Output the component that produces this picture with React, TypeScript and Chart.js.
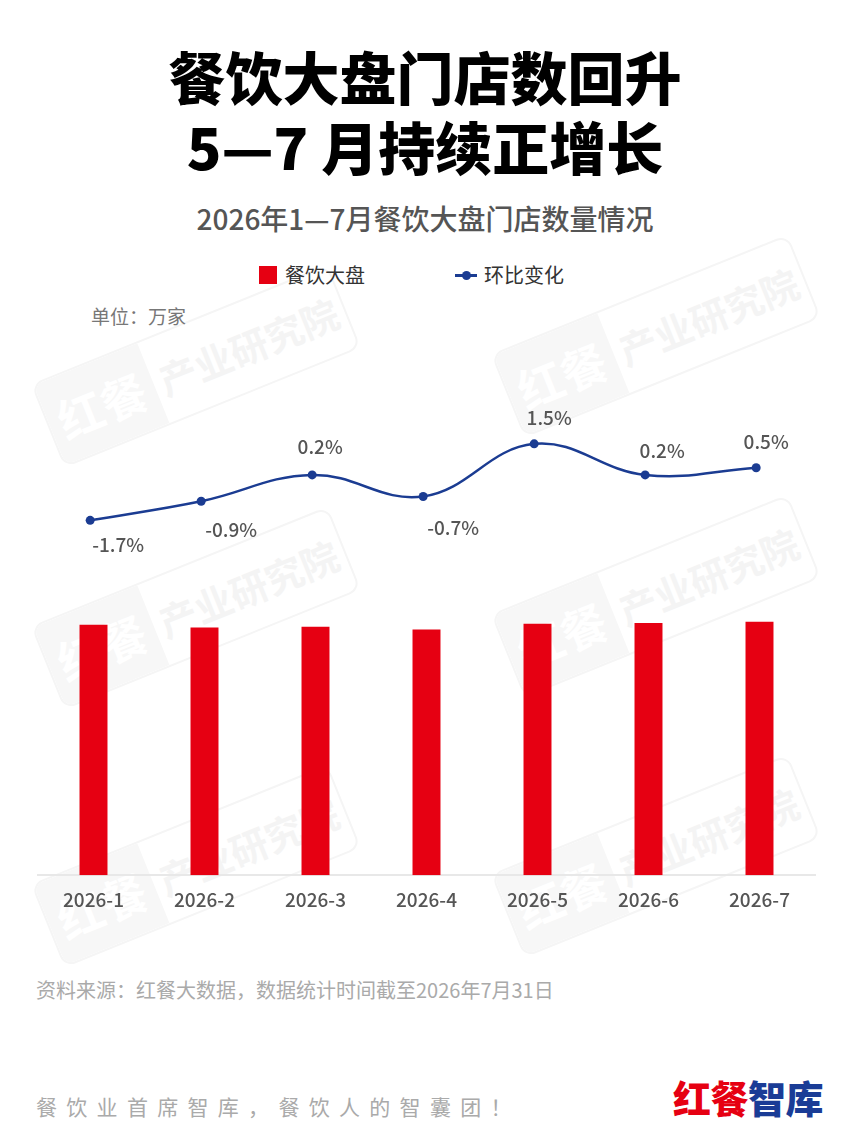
import React, { useEffect, useRef } from "react";
import { Chart, registerables } from "chart.js";

Chart.register(...registerables);

// ---- data ----
const categories = ["2026-1", "2026-2", "2026-3", "2026-4", "2026-5", "2026-6", "2026-7"];
const storeCounts = [800, 791, 794, 785, 803, 806, 810]; // 万家
const momChange = [-1.7, -0.9, 0.2, -0.7, 1.5, 0.2, 0.5]; // %
const momLabels = ["-1.7%", "-0.9%", "0.2%", "-0.7%", "1.5%", "0.2%", "0.5%"];
const seriesNames = ["餐饮大盘", "环比变化"];

// ---- styles ----
const FONT = '"Noto Sans CJK SC", "Noto Sans", sans-serif';
const RED = "#E60012";
const BLUE = "#1B3C92";
const LABEL_OFFSETS: [number, number][] = [
  [28, 24],
  [30, 29],
  [8, -28],
  [30, 31],
  [15, -26],
  [17, -24],
  [10, -26],
];

const lineLabelPlugin = {
  id: "lineLabels",
  afterDatasetsDraw(chart: any) {
    const meta = chart.getDatasetMeta(0);
    const ctx = chart.ctx;
    ctx.save();
    ctx.font = `500 19px ${FONT}`;
    ctx.fillStyle = "#555555";
    ctx.textAlign = "center";
    ctx.textBaseline = "middle";
    meta.data.forEach((pt: any, i: number) => {
      const [dx, dy] = LABEL_OFFSETS[i];
      ctx.fillText(momLabels[i], pt.x + dx, pt.y + dy);
    });
    ctx.restore();
  },
};

function Watermark({ cx, cy }: { cx: number; cy: number }) {
  return (
    <div
      style={{
        position: "absolute",
        left: cx - 160,
        top: cy - 45,
        width: 320,
        height: 90,
        transform: "rotate(-22deg)",
        border: "2px solid #f5f5f5",
        borderRadius: 12,
        display: "flex",
        alignItems: "center",
        overflow: "hidden",
        boxSizing: "border-box",
      }}
    >
      <div
        style={{
          width: 112,
          height: "100%",
          background: "#f7f7f7",
          color: "#ffffff",
          fontWeight: 700,
          fontSize: 46,
          display: "flex",
          alignItems: "center",
          justifyContent: "center",
          fontFamily: FONT,
        }}
      >
        红餐
      </div>
      <div
        style={{
          flex: 1,
          textAlign: "center",
          color: "#f4f4f4",
          fontWeight: 700,
          fontSize: 38,
          fontFamily: FONT,
        }}
      >
        产业研究院
      </div>
    </div>
  );
}

function BarLineChart() {
  const ref = useRef<HTMLCanvasElement | null>(null);
  useEffect(() => {
    if (!ref.current) return;
    const chart = new Chart(ref.current, {
      data: {
        labels: categories,
        datasets: [
          {
            type: "line",
            label: seriesNames[1],
            data: momChange.map((v, i) => ({ x: i, y: v })),
            xAxisID: "x2",
            yAxisID: "y2",
            borderColor: BLUE,
            borderWidth: 2.5,
            pointRadius: 4.5,
            pointBackgroundColor: BLUE,
            pointBorderWidth: 0,
            tension: 0.4,
            order: 0,
          } as any,
          {
            type: "bar",
            label: seriesNames[0],
            data: storeCounts,
            xAxisID: "x",
            yAxisID: "y",
            backgroundColor: RED,
            grouped: false,
            barPercentage: 0.252,
            categoryPercentage: 1,
            order: 1,
          } as any,
        ],
      },
      options: {
        animation: false,
        responsive: true,
        maintainAspectRatio: false,
        layout: { padding: { left: 38, right: 35, top: 0, bottom: 0 } },
        plugins: { legend: { display: false }, tooltip: { enabled: false } },
        scales: {
          x: {
            type: "category",
            offset: true,
            grid: { display: false, drawTicks: false },
            border: { color: "#e8e8e8", width: 2 },
            ticks: {
              color: "#555555",
              padding: 13,
              font: { family: FONT, size: 19, weight: "500" as any },
            },
          },
          x2: { type: "linear", display: false, min: -0.47, max: 6.53 },
          y: { display: false, min: 0, max: 1705 },
          y2: { display: false, min: -16.54, max: 5.78 },
        },
      } as any,
      plugins: [lineLabelPlugin],
    });
    return () => chart.destroy();
  }, []);
  return <canvas ref={ref} />;
}

export default function App() {
  const abs = (extra: React.CSSProperties): React.CSSProperties => ({
    position: "absolute",
    fontFamily: FONT,
    whiteSpace: "nowrap",
    ...extra,
  });
  return (
    <div
      style={{
        position: "fixed",
        left: 0,
        top: 0,
        width: 850,
        height: 1133,
        background: "#ffffff",
        overflow: "hidden",
        fontFamily: FONT,
      }}
    >
      {/* watermarks */}
      <Watermark cx={196} cy={366} />
      <Watermark cx={656} cy={336} />
      <Watermark cx={196} cy={608} />
      <Watermark cx={656} cy={596} />
      <Watermark cx={196} cy={866} />
      <Watermark cx={656} cy={856} />

      {/* title */}
      <div
        style={abs({
          left: 0,
          width: 850,
          top: 40,
          textAlign: "center",
          fontSize: 57,
          fontWeight: 900,
          lineHeight: "70px",
          color: "#000",
        })}
      >
        餐饮大盘门店数回升
        <br />
        5—7 月持续正增长
      </div>

      {/* subtitle */}
      <div
        style={abs({
          left: 0,
          width: 850,
          top: 200,
          textAlign: "center",
          fontSize: 28,
          fontWeight: 500,
          lineHeight: "36px",
          color: "#555",
        })}
      >
        2026年1—7月餐饮大盘门店数量情况
      </div>

      {/* legend */}
      <div style={abs({ left: 259, top: 266, width: 18, height: 18, background: RED })} />
      <div style={abs({ left: 285, top: 261, fontSize: 20, lineHeight: "28px", color: "#333" })}>
        {seriesNames[0]}
      </div>
      <div style={abs({ left: 455, top: 274, width: 22, height: 2.5, background: BLUE })} />
      <div
        style={abs({ left: 461.5, top: 270.5, width: 9, height: 9, borderRadius: "50%", background: BLUE })}
      />
      <div style={abs({ left: 484, top: 261, fontSize: 20, lineHeight: "28px", color: "#333" })}>
        {seriesNames[1]}
      </div>

      {/* unit */}
      <div style={abs({ left: 91, top: 302, fontSize: 19, lineHeight: "28px", color: "#777" })}>
        单位：万家
      </div>

      {/* chart */}
      <div style={{ position: "absolute", left: 0, top: 337, width: 850, height: 587 }}>
        <BarLineChart />
      </div>

      {/* source */}
      <div style={abs({ left: 36, top: 976, fontSize: 20, lineHeight: "28px", color: "#aaa" })}>
        资料来源：红餐大数据，数据统计时间截至2026年7月31日
      </div>

      {/* footer */}
      <div
        style={abs({
          left: 36,
          top: 1091,
          fontSize: 21,
          lineHeight: "30px",
          letterSpacing: 9.3,
          color: "#aaa",
        })}
      >
        餐饮业首席智库，餐饮人的智囊团！
      </div>
      <div
        style={abs({
          left: 673,
          top: 1074,
          fontSize: 38,
          lineHeight: "46px",
          fontWeight: 900,
          letterSpacing: -0.5,
        })}
      >
        <span style={{ color: RED }}>红餐</span>
        <span style={{ color: "#1A3C96" }}>智库</span>
      </div>
    </div>
  );
}
